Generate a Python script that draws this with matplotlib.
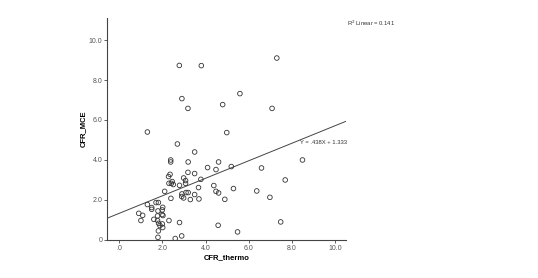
import matplotlib
matplotlib.use("Agg")
import matplotlib.pyplot as plt

# CFR_thermo (x) vs CFR_MCE (y)
cfr_thermo = [1.30, 4.98, 2.69, 3.49, 2.38, 2.38, 3.19, 4.60, 4.09, 5.19,
              4.48, 6.59, 8.49, 7.69, 2.35, 2.28, 3.18, 3.49, 2.98, 3.07,
              3.07, 3.78, 2.45, 2.30, 2.41, 2.50, 2.79, 4.38, 3.67, 5.29,
              2.10, 4.48, 4.60, 3.09, 3.19, 2.90, 3.49, 6.37, 6.98, 2.89,
              2.98, 2.39, 3.29, 3.69, 4.89, 1.30, 1.70, 1.81, 1.50, 1.50,
              2.01, 1.99, 1.79, 0.90, 1.08, 1.98, 2.02, 1.77, 1.00, 1.60,
              1.77, 2.30, 1.82, 1.88, 1.99, 2.01, 1.81, 2.79, 7.48, 4.58,
              5.48, 1.79, 2.59, 2.89,
              2.78, 3.80, 7.30, 2.90, 5.59, 3.18, 4.79, 7.08]
cfr_mce = [5.40, 5.37, 4.80, 4.40, 4.00, 3.90, 3.90, 3.90, 3.62, 3.67,
           3.52, 3.60, 4.00, 3.00, 3.28, 3.17, 3.38, 3.32, 3.10, 2.97,
           2.83, 3.03, 2.92, 2.83, 2.83, 2.77, 2.73, 2.72, 2.62, 2.57,
           2.43, 2.43, 2.35, 2.37, 2.37, 2.30, 2.27, 2.45, 2.13, 2.17,
           2.10, 2.08, 2.02, 2.05, 2.03, 1.77, 1.87, 1.87, 1.62, 1.53,
           1.63, 1.50, 1.45, 1.33, 1.23, 1.27, 1.22, 1.20, 0.97, 1.03,
           0.97, 0.97, 0.83, 0.72, 0.80, 0.62, 0.45, 0.87, 0.90, 0.73,
           0.40, 0.13, 0.07, 0.20,
           8.73, 8.72, 9.10, 7.07, 7.32, 6.58, 6.77, 6.58]

fit_slope = 0.438
fit_intercept = 1.333
r_squared = 0.141

x_ticks = [0, 2, 4, 6, 8, 10]
x_labels = [".0", "2.0", "4.0", "6.0", "8.0", "10.0"]
y_ticks = [0, 2, 4, 6, 8, 10]
y_labels = ["0", "2.0", "4.0", "6.0", "8.0", "10.0"]

plt.rcParams["font.family"] = ["Liberation Sans", "DejaVu Sans"]

fig = plt.figure(figsize=(5.38, 2.78), dpi=100)
ax = fig.add_axes([0.199, 0.137, 0.445, 0.798])

ax.scatter(cfr_thermo, cfr_mce, s=11, facecolors="none",
           edgecolors="#333333", linewidths=0.6, zorder=3)
ax.axline((0, fit_intercept), slope=fit_slope, color="#444444", lw=0.7)

ax.set_xlim(-0.57, 10.53)
ax.set_ylim(0, 11.1)
ax.set_xticks(x_ticks)
ax.set_xticklabels(x_labels)
ax.set_yticks(y_ticks)
ax.set_yticklabels(y_labels)

for s in ["top", "right"]:
    ax.spines[s].set_visible(False)
for s in ["left", "bottom"]:
    ax.spines[s].set_color("#444444")
    ax.spines[s].set_linewidth(0.8)
ax.tick_params(length=2, width=0.6, color="#444444", labelsize=5,
               labelcolor="#555555", pad=1.5)

ax.set_xlabel("CFR_thermo", fontsize=5.5, fontweight="bold", labelpad=2)
ax.set_ylabel("CFR_MCE", fontsize=5.5, fontweight="bold", labelpad=1)

fig.text(347 / 538, 1 - 23 / 278, "R$^2$ Linear = %.3f" % r_squared,
         fontsize=4.2, color="#333333", va="center", ha="left")
fig.text(347 / 538, 1 - 143 / 278,
         "Y = %sX + %.3f" % (("%.3f" % fit_slope).lstrip("0"), fit_intercept),
         fontsize=4.2, color="#333333", va="center", ha="right")

fig.savefig("out.png", dpi=100)
